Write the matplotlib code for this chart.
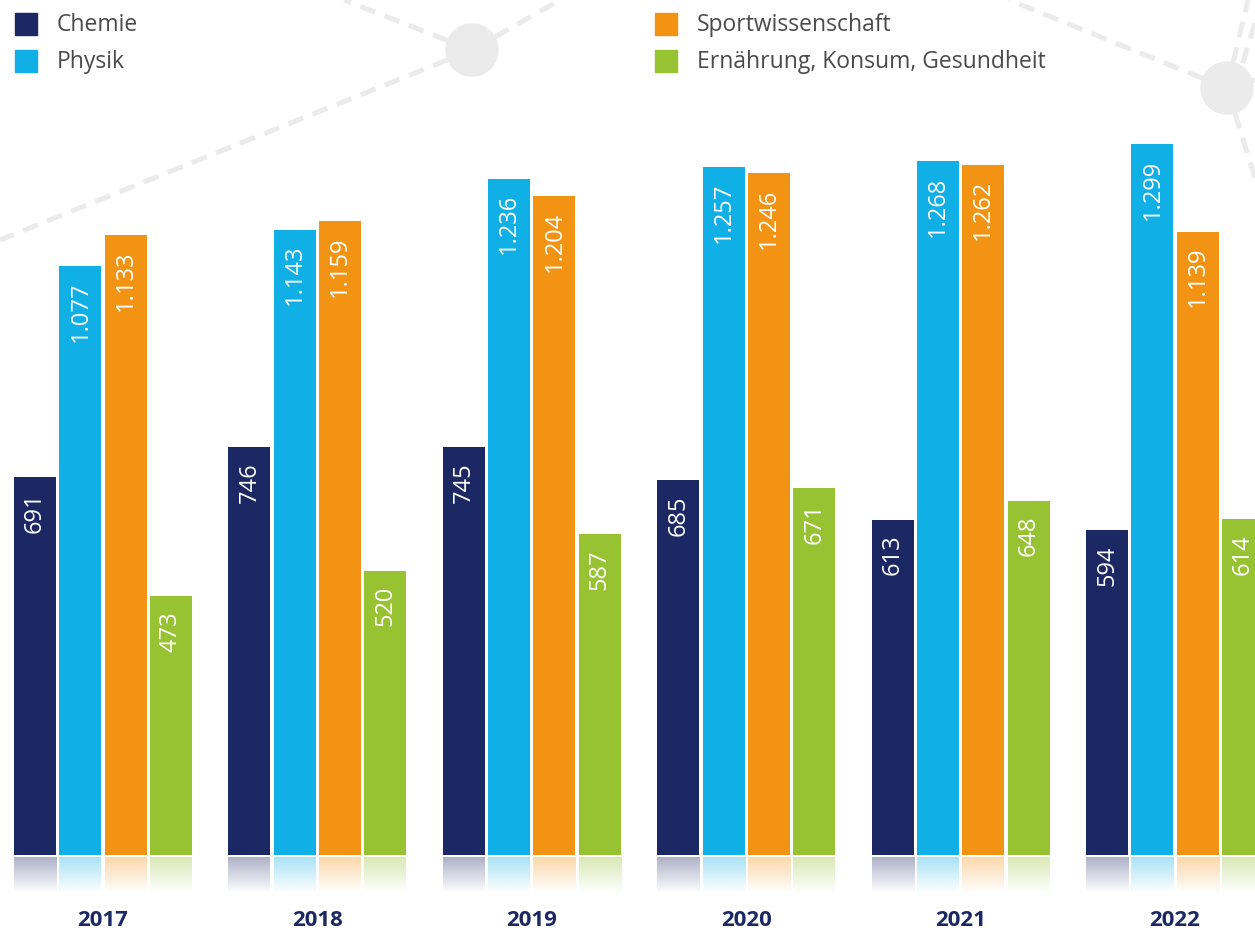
import numpy as np
import matplotlib
matplotlib.use("Agg")
import matplotlib.pyplot as plt
from matplotlib.patches import Rectangle, Circle

# ---------------- data ----------------
years = ["2017", "2018", "2019", "2020", "2021", "2022"]
series = ["Chemie", "Physik", "Sportwissenschaft", "Ernährung, Konsum, Gesundheit"]
chemie = [691, 746, 745, 685, 613, 594]
physik = [1077, 1143, 1236, 1257, 1268, 1299]
sport = [1133, 1159, 1204, 1246, 1262, 1139]
ernaehrung = [473, 520, 587, 671, 648, 614]
values = [chemie, physik, sport, ernaehrung]
colors = ["#1c2864", "#10b0e6", "#f39314", "#97c232"]

W, H = 1255, 936
fig = plt.figure(figsize=(W / 100, H / 100), dpi=100)
fig.patch.set_facecolor("white")

# ---------------- background decoration (pixel coords) ----------------
bg = fig.add_axes([0, 0, 1, 1], zorder=0)
bg.set_xlim(0, W)
bg.set_ylim(H, 0)
bg.axis("off")
deco = "#ebebeb"
segs = [
    ((472, 50), (0, 240)),
    ((472, 50), (344, 0)),
    ((472, 50), (560, 0)),
    ((1227, 88), (1009, 0)),
    ((1227, 88), (1248, 0)),
    ((1235, 88), (1262, 0)),
    ((1227, 88), (1262, 78)),
    ((1227, 88), (1262, 200)),
]
for (x0, y0), (x1, y1) in segs:
    bg.plot([x0, x1], [y0, y1], color=deco, lw=3.6, ls=(0, (3.2, 2.0)),
            solid_capstyle="butt", dash_capstyle="butt")
bg.add_patch(Circle((472, 50), 26, color=deco, zorder=3))
bg.add_patch(Circle((1227, 88), 26, color=deco, zorder=3))

# ---------------- bars ----------------
ax = fig.add_axes([0, 0, 1, 1], zorder=1)
ax.patch.set_alpha(0)
px_per_unit = 0.547
baseline_px = 855
pitch_px = 214.4
center0 = 103
ylim = (-(H - baseline_px) / px_per_unit, baseline_px / px_per_unit)
xlim = (-center0 / pitch_px, (W - center0) / pitch_px)
ax.axis("off")

bw = 42 / pitch_px
step = 45.3 / pitch_px
x = np.arange(len(years))
gap_u = 2.5 / px_per_unit
refl_u = 36 / px_per_unit

for i, (vals, col) in enumerate(zip(values, colors)):
    xs = x + (i - 1.5) * step
    ax.bar(xs, vals, width=bw, color=col, zorder=2)
    rgb = matplotlib.colors.to_rgb(col)
    grad = np.zeros((64, 2, 4))
    grad[..., :3] = rgb
    grad[..., 3] = np.linspace(0.36, 0.0, 64)[:, None]
    for xi, v in zip(xs, vals):
        ax.imshow(grad, extent=[xi - bw / 2, xi + bw / 2, -gap_u - refl_u, -gap_u],
                  origin="upper", aspect="auto", zorder=2, interpolation="bilinear")
        label = f"{v:,}".replace(",", ".")
        ax.text(xi, v - 15 / px_per_unit, label, rotation=90, ha="center", va="top",
                color="white", fontsize=17, family="Open Sans", zorder=3)

ax.set_ylim(*ylim)
ax.set_xlim(*xlim)

for xi, yr in zip(x, years):
    ax.text(xi, -(920 - baseline_px) / px_per_unit, yr, ha="center", va="center",
            color="#1c2864", fontsize=16, fontweight="bold", family="Open Sans")

# ---------------- legend ----------------
leg_pos = [(15, 24), (15, 61), (655, 24), (655, 61)]
for (lx, ly), name, col in zip(leg_pos, series, colors):
    fig.patches.append(Rectangle((lx / W, 1 - (ly + 11) / H), 22 / W, 22 / H,
                                 transform=fig.transFigure, color=col, zorder=5))
    fig.text((lx + 42) / W, 1 - (ly + 1) / H, name, ha="left", va="center",
             color="#4a4a4a", fontsize=16.5, family="Open Sans", zorder=5)

fig.savefig("out.png", dpi=100)
